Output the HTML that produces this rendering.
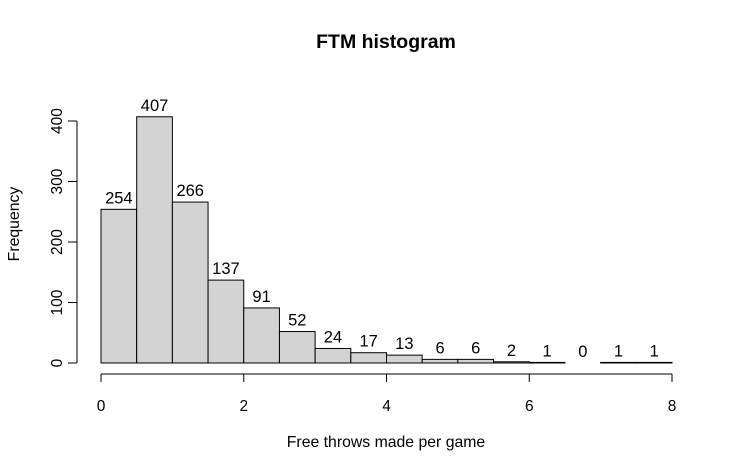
<!DOCTYPE html>
<html><head><meta charset="utf-8"><style>
body{margin:0;background:#fff}
svg{display:block;font-family:"Liberation Sans",Arial,sans-serif}
</style></head><body>
<svg id="chart" width="736" height="472" viewBox="0 0 736 472">
<rect width="736" height="472" fill="#fff"/>
<text x="386" y="48" text-anchor="middle" font-weight="bold" font-size="19.5">FTM histogram</text>
<text x="386" y="447" text-anchor="middle" font-size="15.8">Free throws made per game</text>
<text transform="translate(19,224) rotate(-90)" text-anchor="middle" font-size="15.8">Frequency</text>
<g id="bars"></g><g id="xaxis"></g><g id="yaxis"></g>
</svg>
<script>
const binStarts=[0,0.5,1,1.5,2,2.5,3,3.5,4,4.5,5,5.5,6,6.5,7,7.5];
const counts=[254,407,266,137,91,52,24,17,13,6,6,2,1,0,1,1];
const xTicks=[0,2,4,6,8];
const yTicks=[0,100,200,300,400];
const binWidth=0.5;
const NS="http://www.w3.org/2000/svg";
const x=v=>101+v*(672-101)/8;
const y=v=>363-v*(363-121)/400;
function mk(tag,attrs,parent){const e=document.createElementNS(NS,tag);for(const k in attrs)e.setAttribute(k,attrs[k]);parent.appendChild(e);return e;}
const bars=document.getElementById('bars');
counts.forEach((c,i)=>{
  const r=mk('rect',{x:x(binStarts[i]),y:y(c),width:x(binStarts[i]+binWidth)-x(binStarts[i]),height:y(0)-y(c),fill:'#d3d3d3',stroke:'#000','stroke-width':1},bars);
  
  
  const t=mk('text',{x:(x(binStarts[i])+x(binStarts[i]+binWidth))/2,y:y(c)-6,'text-anchor':'middle','font-size':16.5},bars);
  t.textContent=c;
  
  
});
const xa=document.getElementById('xaxis');


mk('line',{x1:x(xTicks[0]),x2:x(xTicks[xTicks.length-1]),y1:374,y2:374,stroke:'#000'},xa);
xTicks.forEach(v=>{
  mk('line',{x1:x(v),x2:x(v),y1:374,y2:382,stroke:'#000'},xa);
  const t=mk('text',{x:x(v),y:411,'text-anchor':'middle','font-size':15.5},xa);
  t.textContent=v;
  
  
});
const ya=document.getElementById('yaxis');


mk('line',{x1:77,x2:77,y1:y(yTicks[0]),y2:y(yTicks[yTicks.length-1]),stroke:'#000'},ya);
yTicks.forEach(v=>{
  mk('line',{x1:68,x2:77,y1:y(v),y2:y(v),stroke:'#000'},ya);
  const t=mk('text',{transform:`translate(62,${y(v)}) rotate(-90)`,'text-anchor':'middle','font-size':15.5},ya);
  t.textContent=v;
  
  
});
</script>
</body></html>
